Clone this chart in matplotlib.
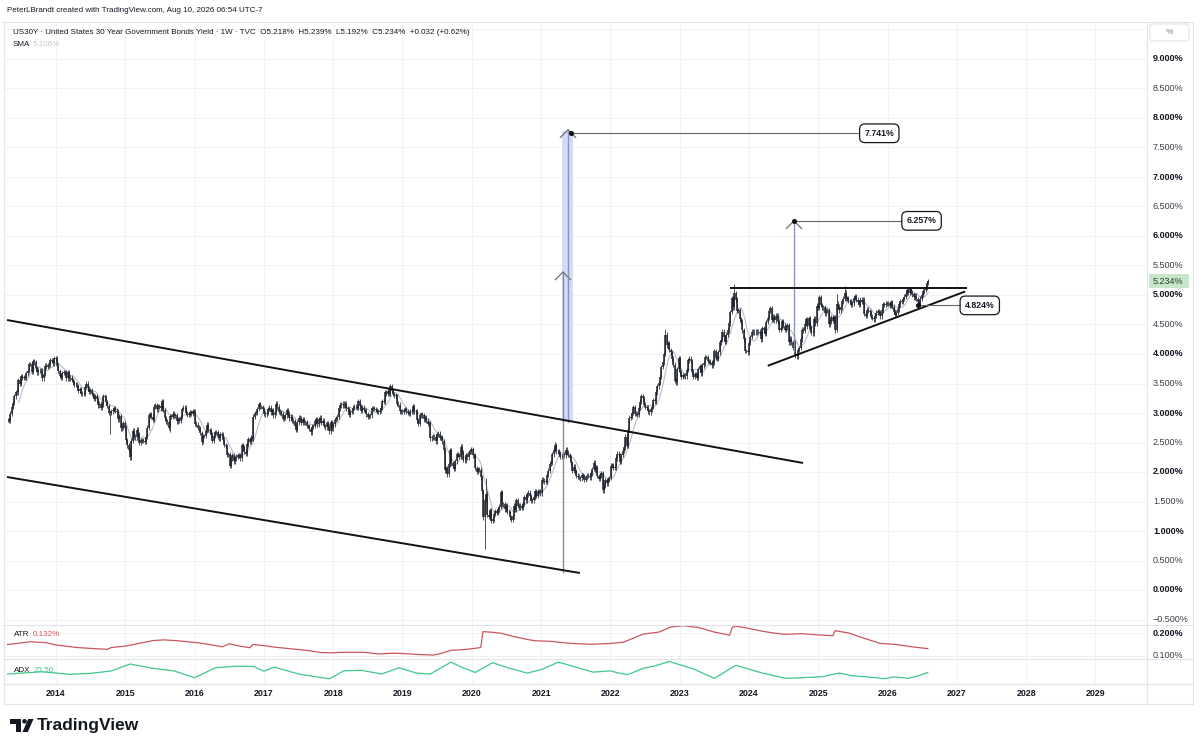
import numpy as np
import pandas as pd
import matplotlib
matplotlib.use("Agg")
import matplotlib.pyplot as plt
from matplotlib.patches import Rectangle, Polygon, Circle, FancyBboxPatch

plt.rcParams['font.family'] = ['Liberation Sans', 'DejaVu Sans']

# --- weekly closes, US30Y yield (%), one list per calendar year (weekly bars start on Mondays)
c2013 = [2.88, 2.87, 2.99, 3.11, 3.17, 3.28, 3.35, 3.35, 3.56, 3.50, 3.62, 3.60, 3.61, 3.60, 3.67,
         3.71, 3.83, 3.83, 3.70, 3.88, 3.86, 3.76, 3.69, 3.72, 3.71, 3.72, 3.59, 3.66,
         3.80, 3.78, 3.81, 3.82, 3.90, 3.88, 3.84, 3.93, 3.92]
c2014 = [3.80, 3.71, 3.63, 3.60, 3.68, 3.69, 3.69, 3.59, 3.69, 3.59, 3.60, 3.56, 3.52,
         3.48, 3.48, 3.45, 3.38, 3.40, 3.33, 3.33, 3.33, 3.44, 3.50, 3.42, 3.36, 3.39,
         3.32, 3.30, 3.24, 3.28, 3.23, 3.13, 3.16, 3.09, 3.14, 3.28, 3.27, 3.18, 3.12,
         3.00, 3.00, 3.03, 3.05, 3.08, 3.04, 3.02, 2.89, 2.95, 2.74, 2.75, 2.83, 2.75]
c2015 = [2.54, 2.45, 2.38, 2.25, 2.53, 2.70, 2.60, 2.59, 2.72, 2.64, 2.50, 2.54, 2.54,
         2.53, 2.51, 2.60, 2.75, 2.96, 2.98, 2.94, 2.88, 3.11, 3.13, 3.06, 3.11, 3.12,
         3.08, 3.20, 3.05, 2.91, 2.86, 2.84, 2.75, 2.95, 2.93, 2.99, 2.95, 2.96, 2.86,
         2.90, 2.87, 2.93, 3.07, 3.09, 3.09, 3.00, 2.98, 2.97, 3.01, 2.99, 3.03, 3.02]
c2016 = [2.82, 2.80, 2.75, 2.74, 2.66, 2.51, 2.61, 2.61, 2.70, 2.80, 2.71, 2.70, 2.63,
         2.53, 2.61, 2.67, 2.67, 2.60, 2.57, 2.64, 2.63, 2.55, 2.46, 2.44, 2.29, 2.30,
         2.10, 2.23, 2.28, 2.18, 2.23, 2.26, 2.28, 2.28, 2.23, 2.45, 2.42, 2.34, 2.31,
         2.47, 2.56, 2.51, 2.58, 2.56, 2.94, 3.00, 3.00, 3.07, 3.15, 3.10, 3.10, 3.07]
c2017 = [2.99, 2.98, 3.00, 3.07, 3.09, 3.01, 3.05, 2.96, 3.00, 3.16, 3.11, 3.02, 3.01,
         2.99, 2.90, 2.92, 2.96, 3.05, 2.99, 2.91, 2.94, 2.87, 2.86, 2.78, 2.71, 2.84,
         2.92, 2.91, 2.83, 2.90, 2.84, 2.84, 2.78, 2.78, 2.73, 2.67, 2.77, 2.78, 2.86,
         2.89, 2.81, 2.89, 2.92, 2.83, 2.87, 2.78, 2.76, 2.83, 2.77, 2.69, 2.84, 2.74]
c2018 = [2.81, 2.88, 2.91, 2.94, 3.08, 3.14, 3.13, 3.16, 3.13, 3.16, 3.08, 3.06, 2.97,
         3.02, 3.03, 3.09, 3.11, 3.10, 3.09, 3.20, 3.12, 3.04, 3.09, 3.05, 3.04, 2.98,
         2.94, 2.95, 2.96, 3.08, 3.08, 3.07, 3.05, 3.02, 3.02, 3.04, 3.09, 3.20, 3.19,
         3.35, 3.32, 3.38, 3.32, 3.46, 3.38, 3.32, 3.30, 3.29, 3.16, 3.14, 3.03, 3.02, 3.02]
c2019 = [3.05, 3.06, 3.03, 3.00, 2.99, 3.02, 3.02, 3.12, 3.03, 3.03, 2.88, 2.82,
         2.96, 2.98, 2.96, 2.89, 2.92, 2.87, 2.82, 2.83, 2.57, 2.59, 2.60, 2.59, 2.52,
         2.64, 2.65, 2.58, 2.59, 2.52, 2.38, 2.03, 2.07, 1.96, 2.13, 2.37, 2.15, 2.10, 2.05,
         2.18, 2.30, 2.29, 2.26, 2.43, 2.34, 2.21, 2.20, 2.29, 2.25, 2.34, 2.34, 2.39]
c2020 = [2.28, 2.29, 2.07, 2.00, 2.05, 2.04, 1.91, 1.68, 1.23, 1.53, 1.63, 1.27, 1.24,
         1.35, 1.17, 1.20, 1.29, 1.34, 1.31, 1.37, 1.41, 1.66, 1.45, 1.46, 1.37, 1.43,
         1.33, 1.32, 1.23, 1.19, 1.25, 1.43, 1.36, 1.52, 1.43, 1.40, 1.43, 1.39, 1.46,
         1.57, 1.52, 1.62, 1.65, 1.59, 1.51, 1.52, 1.57, 1.67, 1.60, 1.67, 1.67, 1.64]
c2021 = [1.87, 1.85, 1.84, 1.83, 1.95, 2.02, 2.14, 2.16, 2.30, 2.38, 2.45, 2.35, 2.35,
         2.31, 2.26, 2.26, 2.30, 2.28, 2.38, 2.33, 2.29, 2.24, 2.15, 2.02, 2.09, 2.01,
         1.94, 1.92, 1.90, 1.89, 1.95, 1.93, 1.87, 1.91, 1.94, 1.94, 1.91, 1.98, 2.05,
         2.16, 2.04, 2.08, 1.93, 1.88, 1.94, 1.98, 1.69, 1.77, 1.86, 1.81, 1.87, 1.90]
c2022 = [2.11, 2.12, 2.07, 2.08, 2.23, 2.31, 2.29, 2.17, 2.29, 2.36, 2.42, 2.60, 2.44,
         2.72, 2.92, 2.94, 3.00, 3.10, 2.99, 2.99, 2.97, 3.09, 3.19, 3.28, 3.25, 3.14,
         3.10, 3.09, 3.03, 3.01, 3.06, 3.11, 3.22, 3.20, 3.35, 3.45, 3.51, 3.61, 3.78,
         3.86, 4.00, 4.33, 4.15, 4.18, 4.07, 4.03, 3.92, 3.82, 3.55, 3.52, 3.74, 3.93]
c2023 = [3.69, 3.61, 3.64, 3.63, 3.62, 3.73, 3.89, 3.92, 3.88, 3.70, 3.61, 3.66, 3.65,
         3.60, 3.74, 3.79, 3.67, 3.81, 3.84, 3.95, 3.95, 3.88, 3.87, 3.85, 3.81, 3.86,
         4.05, 3.93, 3.92, 4.03, 4.20, 4.24, 4.38, 4.29, 4.21, 4.33, 4.40, 4.52, 4.71,
         4.95, 4.79, 5.03, 4.92, 4.73, 4.74, 4.59, 4.55, 4.40, 4.25, 4.05, 4.05, 4.03]
c2024 = [4.19, 4.29, 4.38, 4.37, 4.38, 4.37, 4.38, 4.38, 4.36, 4.25, 4.44, 4.41, 4.34,
         4.54, 4.61, 4.73, 4.78, 4.58, 4.63, 4.57, 4.65, 4.65, 4.55, 4.41, 4.44, 4.56,
         4.48, 4.41, 4.45, 4.49, 4.20, 4.26, 4.20, 4.10, 4.20, 3.97, 3.96, 4.07, 4.10, 4.25,
         4.41, 4.39, 4.51, 4.59, 4.47, 4.61, 4.45, 4.36, 4.35, 4.60, 4.52, 4.82, 4.78]
c2025 = [4.96, 4.83, 4.79, 4.79, 4.69, 4.74, 4.74, 4.50, 4.55, 4.62, 4.56, 4.62, 4.41,
         4.85, 4.80, 4.74, 4.79, 4.89, 4.94, 5.04, 4.93, 4.95, 4.90, 4.89, 4.83, 4.86,
         4.95, 4.98, 4.92, 4.88, 4.83, 4.92, 4.88, 4.92, 4.68, 4.65, 4.75, 4.73, 4.71,
         4.63, 4.61, 4.59, 4.65, 4.70, 4.73, 4.71, 4.64, 4.74, 4.84, 4.83, 4.85, 4.86]
c2026 = [4.86, 4.82, 4.88, 4.80, 4.72, 4.66, 4.70, 4.76, 4.84, 4.90, 4.88, 4.93, 4.97,
         5.02, 5.08, 5.04, 5.10, 5.05, 5.01, 4.96, 4.99, 4.93, 4.88, 4.85, 4.94, 5.00,
         5.06, 5.09, 5.13, 5.202, 5.234]

closes_by_year = {2013: c2013, 2014: c2014, 2015: c2015, 2016: c2016, 2017: c2017,
                  2018: c2018, 2019: c2019, 2020: c2020, 2021: c2021, 2022: c2022,
                  2023: c2023, 2024: c2024, 2025: c2025, 2026: c2026}
first_bar = {2013: '2013-04-22', 2014: '2014-01-06', 2015: '2015-01-05', 2016: '2016-01-04',
             2017: '2017-01-02', 2018: '2018-01-01', 2019: '2019-01-07', 2020: '2020-01-06',
             2021: '2021-01-04', 2022: '2022-01-03', 2023: '2023-01-02', 2024: '2024-01-01',
             2025: '2025-01-06', 2026: '2026-01-05'}

# long wicks
low_wick_dates = ['2014-10-13', '2015-08-24', '2016-02-08', '2016-07-04', '2019-08-26',
                  '2020-03-09', '2025-03-31', '2026-06-15']
low_wick_vals = [2.65, 2.68, 2.45, 2.08, 1.91, 0.70, 4.36, 4.824]
high_wick_dates = ['2020-03-16', '2021-03-15', '2022-10-17', '2023-10-16', '2025-04-07',
                   '2025-05-19', '2026-08-03']
high_wick_vals = [1.90, 2.51, 4.42, 5.18, 5.02, 5.15, 5.239]

# ATR / ADX panes (decimal year, value)
atr_t = [2013.30, 2013.45, 2013.63, 2013.85, 2014.00, 2014.30, 2014.55, 2014.74, 2014.80, 2015.00,
         2015.20, 2015.40, 2015.55, 2015.73, 2015.90, 2016.06, 2016.25, 2016.40, 2016.50, 2016.65,
         2016.80, 2016.84, 2017.00, 2017.17, 2017.40, 2017.60, 2017.83, 2018.00, 2018.16, 2018.44,
         2018.66, 2018.85, 2018.99, 2019.27, 2019.45, 2019.54, 2019.71, 2019.90, 2020.09, 2020.13,
         2020.16, 2020.30, 2020.42, 2020.60, 2020.80, 2020.92, 2021.14, 2021.30, 2021.48, 2021.73,
         2022.02, 2022.19, 2022.35, 2022.47, 2022.70, 2022.87, 2023.05, 2023.27, 2023.50, 2023.67,
         2023.72, 2023.76, 2023.82, 2023.96, 2024.19, 2024.35, 2024.53, 2024.76, 2024.98, 2025.21,
         2025.24, 2025.44, 2025.67, 2025.89, 2026.12, 2026.35, 2026.58]
atr_v = [0.150, 0.155, 0.162, 0.158, 0.148, 0.137, 0.132, 0.129, 0.137, 0.143,
         0.155, 0.167, 0.170, 0.167, 0.162, 0.157, 0.148, 0.140, 0.153, 0.143,
         0.136, 0.150, 0.145, 0.138, 0.131, 0.125, 0.115, 0.114, 0.116, 0.116,
         0.109, 0.112, 0.111, 0.106, 0.104, 0.110, 0.125, 0.128, 0.135, 0.137,
         0.206, 0.203, 0.199, 0.185, 0.172, 0.166, 0.164, 0.158, 0.154, 0.151,
         0.155, 0.160, 0.180, 0.195, 0.204, 0.226, 0.232, 0.224, 0.204, 0.194,
         0.190, 0.226, 0.229, 0.222, 0.208, 0.200, 0.194, 0.197, 0.192, 0.188,
         0.210, 0.200, 0.176, 0.155, 0.150, 0.140, 0.132]
adx_t = [2013.30, 2013.50, 2013.80, 2014.20, 2014.50, 2014.80, 2015.07, 2015.40, 2015.70,
         2016.00, 2016.30, 2016.60, 2016.85, 2017.00, 2017.15, 2017.50, 2017.75, 2017.95,
         2018.15, 2018.40, 2018.70, 2018.95, 2019.20, 2019.40, 2019.70, 2019.85,
         2020.05, 2020.30, 2020.55, 2020.80, 2021.00, 2021.25, 2021.50, 2021.75,
         2022.00, 2022.10, 2022.25, 2022.47, 2022.64, 2022.85, 2023.20, 2023.50, 2023.81,
         2024.19, 2024.53, 2024.85, 2025.05, 2025.30, 2025.50, 2025.70, 2025.95,
         2026.10, 2026.30, 2026.45, 2026.58]
adx_v = [21.0, 22.5, 24.5, 20.5, 22.0, 26.0, 37.0, 30.0, 26.0,
         15.0, 31.0, 33.5, 33.0, 25.5, 32.0, 21.0, 16.5, 13.5,
         26.0, 27.0, 21.0, 31.0, 22.5, 21.0, 40.0, 32.0,
         23.5, 39.0, 30.0, 22.5, 28.0, 40.0, 32.0, 24.0,
         26.0, 23.0, 20.0, 30.0, 34.0, 41.0, 29.0, 14.0, 35.0,
         22.5, 14.0, 15.5, 16.5, 22.5, 18.0, 16.5, 13.5,
         16.5, 14.0, 18.5, 23.5]

year_ticks = list(range(2014, 2030))
price_ticks = [-0.5, 0.0, 0.5, 1.0, 1.5, 2.0, 2.5, 3.0, 3.5, 4.0, 4.5,
               5.0, 5.5, 6.0, 6.5, 7.0, 7.5, 8.0, 8.5, 9.0]

# chart drawings (decimal year, yield %)
channel_upper = ([2013.293, 2024.78], [4.576, 2.153])
channel_lower = ([2013.293, 2021.56], [1.915, 0.288])
triangle_top = ([2023.72, 2027.15], [5.12, 5.12])
triangle_base = ([2024.27, 2027.12], [3.80, 5.06])
arrow_t = [2021.316, 2021.388, 2024.649]
arrow_from = [0.30, 2.85, 4.05]
arrow_to = [5.39, 7.80, 6.257]
band_t = [2021.30, 2021.46]
band_v = [2.85, 7.78]
target_vals = [7.741, 6.257, 4.824]
target_dot_t = [2021.43, 2024.65, 2026.44]
target_box_t = [2025.88, 2026.49, 2027.33]

last_price = 5.234
sma_last = '5.106%'

# ---------------------------------------------------------------------------
W, H = 1200, 749
fig = plt.figure(figsize=(W / 100, H / 100), dpi=100)
fig.patch.set_facecolor('white')


def rect(x0, y0, x1, y1):
    return [x0 / W, 1 - y1 / H, (x1 - x0) / W, (y1 - y0) / H]


def dec_year(idx):
    idx = pd.DatetimeIndex(idx)
    return np.asarray(idx.year + (idx.dayofyear - 1) / np.where(idx.is_leap_year, 366, 365))


PX2014, PXYR = 56, 69.3
xlim = (2014 + (4 - PX2014) / PXYR, 2014 + (1147 - PX2014) / PXYR)
grid_c = '#f0f2f6'
txt_c = '#131722'

ax = fig.add_axes(rect(4, 22, 1147, 625))
ax_atr = fig.add_axes(rect(4, 625, 1147, 659))
ax_adx = fig.add_axes(rect(4, 659, 1147, 684))
ax.set_ylim((590 - 625) / 59, (590 - 22) / 59)
ax_atr.set_ylim(0.1 - 3 / 230, 0.2 + 8 / 230)
ax_adx.set_ylim(5, 45)
for a in (ax, ax_atr, ax_adx):
    a.set_xlim(*xlim)
    a.axis('off')
    for yr in year_ticks:
        a.axvline(yr, color=grid_c, lw=0.7, zorder=0)
for v in price_ticks + [9.5]:
    ax.axhline(v, color=grid_c, lw=0.7, zorder=0)
for v in (0.1, 0.2):
    ax_atr.axhline(v, color=grid_c, lw=0.7, zorder=0)

# candles
dates, closes = [], []
for yr, vals in closes_by_year.items():
    dates.extend(pd.date_range(first_bar[yr], periods=len(vals), freq='7D'))
    closes.extend(vals)
dates = pd.DatetimeIndex(dates)
c = np.array(closes)
o = np.r_[c[0], c[:-1]]
hi = np.maximum(o, c) + 0.04
lo = np.minimum(o, c) - 0.04
pos = {d: i for i, d in enumerate(dates)}
for d, v in zip(low_wick_dates, low_wick_vals):
    i = pos.get(pd.Timestamp(d))
    if i is not None:
        lo[i] = min(lo[i], v)
for d, v in zip(high_wick_dates, high_wick_vals):
    i = pos.get(pd.Timestamp(d))
    if i is not None:
        hi[i] = max(hi[i], v)
t = dec_year(dates)
sma = pd.Series(c).rolling(9).mean()
ax.plot(t, sma, color='#b9bcc4', lw=0.8, zorder=2)
ax.vlines(t, lo, hi, color='#1e222d', lw=0.55, zorder=3)
ax.vlines(t, np.minimum(o, c), np.maximum(o, c), color='#1e222d', lw=1.1, zorder=3)

# trend lines
for xs, ys in (channel_upper, channel_lower, triangle_top, triangle_base):
    ax.plot(xs, ys, color='#111111', lw=1.4, zorder=5, solid_capstyle='butt')

# projection band + arrows
ax.add_patch(Rectangle((band_t[0], band_v[0]), band_t[1] - band_t[0], band_v[1] - band_v[0],
                       facecolor='#d3dbf7', edgecolor='none', zorder=1))
arrow_cols = ['#8c8c8c', '#8a93b8', '#8a93b8']
for at, a0, a1, col in zip(arrow_t, arrow_from, arrow_to, arrow_cols):
    ax.plot([at, at], [a0, a1], color=col, lw=1.0, zorder=4)
    ax.plot([at - 0.11, at, at + 0.11], [a1 - 0.13, a1, a1 - 0.13], color='#6f6f6f', lw=0.9,
            zorder=4)

# target labels
for v, dt, bt in zip(target_vals, target_dot_t, target_box_t):
    ax.plot([dt, bt], [v, v], color='#666666', lw=0.8, zorder=5)
    ax.plot(dt, v, 'o', ms=2.6, color='#111111', zorder=6)
    ax.text(bt, v, f'{v:.3f}%', ha='center', va='center', fontsize=6.3, fontweight='bold',
            color=txt_c, zorder=7,
            bbox=dict(boxstyle='round,pad=0.55,rounding_size=0.6', fc='white', ec=txt_c, lw=0.9))

# ATR / ADX
ax_atr.plot(atr_t, atr_v, color='#c9575c', lw=0.9)
ax_adx.plot(adx_t, adx_v, color='#3fc78a', lw=0.9)

# right price scales
rax = fig.add_axes(rect(1147, 22, 1193, 625))
rax.set_ylim(ax.get_ylim())
rax.axis('off')
tr = rax.get_yaxis_transform()
for v in price_ticks:
    whole = abs(v - round(v)) < 1e-9
    lab = f'{v:.3f}%'.replace('-', '\u2212')
    rax.text(0.13, v, lab, transform=tr, fontsize=6.5, va='center', ha='left',
             color=txt_c if whole else '#3a3e4a',
             fontweight='bold' if whole else 'normal', clip_on=True)
rax.add_patch(Rectangle((0.04, last_price - 0.12), 0.88, 0.24, transform=tr,
                        facecolor='#c8e6c9', edgecolor='none', zorder=3))
rax.text(0.13, last_price, f'{last_price:.3f}%', transform=tr, fontsize=6.5, va='center',
         ha='left', color='#1b4d20', zorder=4)

rax2 = fig.add_axes(rect(1147, 625, 1193, 659))
rax2.set_ylim(ax_atr.get_ylim())
rax2.axis('off')
tr2 = rax2.get_yaxis_transform()
rax2.text(0.13, 0.2, '0.200%', transform=tr2, fontsize=6.5, va='center', color=txt_c,
          fontweight='bold', clip_on=True)
rax2.text(0.13, 0.1, '0.100%', transform=tr2, fontsize=6.5, va='center', color='#3a3e4a',
          clip_on=True)

# time axis labels
xt = ax_adx.get_xaxis_transform()
for yr in year_ticks:
    ax_adx.text(yr, -0.4, str(yr), transform=xt, ha='center', va='center', fontsize=6.4,
                fontweight='bold', color=txt_c, clip_on=False)

# overlay: frame, header, legends, logo
ov = fig.add_axes([0, 0, 1, 1], zorder=10)
ov.set_xlim(0, W)
ov.set_ylim(H, 0)
ov.axis('off')
fr = '#e0e3eb'
for y in (22, 625, 659, 684, 704):
    ov.plot([4, 1193], [y, y], color=fr, lw=0.8)
for x in (4, 1147, 1193):
    ov.plot([x, x], [22, 704], color=fr, lw=0.8)
ov.add_patch(FancyBboxPatch((1150, 24), 39, 17, boxstyle='round,pad=0,rounding_size=3',
                            fc='white', ec=fr, lw=0.8))
ov.text(1169.5, 32.5, '%', ha='center', va='center', fontsize=6, color='#787b86')

ov.text(7, 11, 'PeterLBrandt created with TradingView.com, Aug 10, 2026 06:54 UTC-7',
        fontsize=5.8, va='center', color=txt_c)
ov.text(13, 32, 'US30Y \u00b7 United States 30 Year Government Bonds Yield \u00b7 1W \u00b7 TVC'
        '  O5.218%  H5.239%  L5.192%  C5.234%  +0.032 (+0.62%)',
        fontsize=5.8, va='center', color=txt_c)
ov.text(13, 44, 'SMA', fontsize=5.8, va='center', color=txt_c)
ov.text(33, 44, sma_last, fontsize=5.8, va='center', color='#c3c6cc')
ov.text(14, 634, 'ATR', fontsize=5.8, va='center', color=txt_c)
ov.text(33, 634, '0.132%', fontsize=5.8, va='center', color='#c9575c')
ov.text(14, 671, 'ADX', fontsize=5.8, va='center', color=txt_c)
ov.text(34, 671, '23.50', fontsize=5.8, va='center', color='#3fc78a')

# TradingView logo
logo_c = '#131722'
ov.add_patch(Rectangle((10, 719), 10.5, 4.5, color=logo_c, lw=0))
ov.add_patch(Rectangle((15.5, 719), 5, 13, color=logo_c, lw=0))
ov.add_patch(Circle((24.5, 721.3), 2.3, color=logo_c, lw=0))
ov.add_patch(Polygon([(22.5, 732), (27.8, 732), (33.5, 719), (28.2, 719)], color=logo_c, lw=0))
ov.text(37, 725.5, 'TradingView', fontsize=12.5, fontweight='bold', va='center', color=logo_c)

fig.savefig('out.png', dpi=100, facecolor='white')
